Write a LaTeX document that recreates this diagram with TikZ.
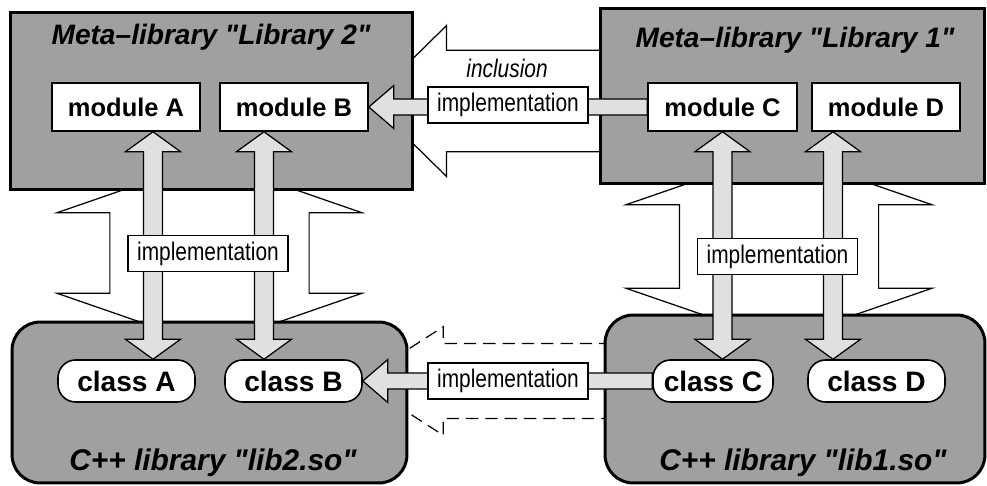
\documentclass[tikz,border=0pt]{standalone}
\usepackage{fontspec}
\setmainfont{Liberation Sans}
\newfontfamily\narrowfont[FakeStretch=0.82]{Liberation Sans}
\usetikzlibrary{calc,backgrounds}

\definecolor{boxgray}{RGB}{160,160,160}
\definecolor{flowgray}{RGB}{224,224,224}

\tikzset{
  fat shaft/.store in=\fatshaft, fat head/.store in=\fathead, fat tip/.store in=\fattip,
  fat shaft=5.4pt, fat head=15.6pt, fat tip=11.3pt
}

% fat arrow with one head, from #2 to #3
\newcommand{\fatlink}[3][]{%
  \draw[#1] let \p1=($(#3)-(#2)$), \n1={atan2(\y1,\x1)}, \n2={veclen(\x1,\y1)} in
    ([shift={(#2)},rotate=\n1]0pt,\fatshaft)
    -- ([shift={(#2)},rotate=\n1]\n2-\fattip,\fatshaft)
    -- ([shift={(#2)},rotate=\n1]\n2-\fattip,\fathead)
    -- ([shift={(#2)},rotate=\n1]\n2,0pt)
    -- ([shift={(#2)},rotate=\n1]\n2-\fattip,-\fathead)
    -- ([shift={(#2)},rotate=\n1]\n2-\fattip,-\fatshaft)
    -- ([shift={(#2)},rotate=\n1]0pt,-\fatshaft) -- cycle;}

% fat arrow with two heads
\newcommand{\fatdlink}[3][]{%
  \draw[#1] let \p1=($(#3)-(#2)$), \n1={atan2(\y1,\x1)}, \n2={veclen(\x1,\y1)} in
    ([shift={(#2)},rotate=\n1]0pt,0pt)
    -- ([shift={(#2)},rotate=\n1]\fattip,\fathead)
    -- ([shift={(#2)},rotate=\n1]\fattip,\fatshaft)
    -- ([shift={(#2)},rotate=\n1]\n2-\fattip,\fatshaft)
    -- ([shift={(#2)},rotate=\n1]\n2-\fattip,\fathead)
    -- ([shift={(#2)},rotate=\n1]\n2,0pt)
    -- ([shift={(#2)},rotate=\n1]\n2-\fattip,-\fathead)
    -- ([shift={(#2)},rotate=\n1]\n2-\fattip,-\fatshaft)
    -- ([shift={(#2)},rotate=\n1]\fattip,-\fatshaft)
    -- ([shift={(#2)},rotate=\n1]\fattip,-\fathead) -- cycle;}

\begin{document}
\begin{tikzpicture}[x=0.02cm, y=-0.02cm,
    metabox/.style={draw, line width=1.7pt, fill=boxgray, inner sep=0pt, outer sep=0pt},
    sobox/.style={metabox, rounded corners=16pt},
    module/.style={draw, line width=0.9pt, fill=white, inner sep=0pt, minimum height=0.96cm,
      font=\bfseries\fontsize{14.5}{16}\selectfont},
    classbox/.style={draw, line width=0.9pt, fill=white, inner sep=0pt, minimum height=0.84cm,
      rounded corners=10pt, font=\bfseries\fontsize{16}{18}\selectfont},
    title/.style={font=\bfseries\itshape\fontsize{16}{18}\selectfont},
    implabel/.style={draw, fill=white, line width=0.7pt, inner sep=0pt,
      minimum width=3.2cm, minimum height=0.72cm, font=\narrowfont\fontsize{14.5}{16}\selectfont},
    flow/.style={draw, fill=flowgray, line width=0.7pt},
    inclusion/.style={draw, fill=white, line width=0.7pt}]
  \useasboundingbox (0,0) rectangle (987,486);

  % Meta-libraries
  \node[metabox, minimum width=8.06cm, minimum height=3.56cm] (lib2meta) at (211.5,101) {};
  \node[metabox, minimum width=7.7cm, minimum height=3.52cm] (lib1meta) at (792.5,96) {};
  \node[title] (lib2title) at (211,37) {Meta--library \textquotedbl Library 2\textquotedbl};
  \node[title] (lib1title) at (795,40) {Meta--library \textquotedbl Library 1\textquotedbl};

  % C++ libraries
  \node[sobox, minimum width=7.9cm, minimum height=3.22cm] (lib2so) at (209.5,402.5) {};
  \node[sobox, minimum width=7.6cm, minimum height=3.36cm] (lib1so) at (795,399) {};
  \node[title, font=\bfseries\itshape\fontsize{17}{19}\selectfont] (lib2sotitle) at (213,463) {C++ library \textquotedbl lib2.so\textquotedbl};
  \node[title, font=\bfseries\itshape\fontsize{17}{19}\selectfont] (lib1sotitle) at (803,463) {C++ library \textquotedbl lib1.so\textquotedbl};

  % modules
  \node[module, minimum width=2.96cm] (modA) at (126,107) {module A};
  \node[module, minimum width=2.96cm] (modB) at (294,107) {module B};
  \node[module, minimum width=2.98cm] (modC) at (722.5,107) {module C};
  \node[module, minimum width=2.96cm] (modD) at (886,107) {module D};

  % classes
  \node[classbox, minimum width=2.74cm] (clsA) at (126.5,381) {class A};
  \node[classbox, minimum width=2.74cm] (clsB) at (293.5,381) {class B};
  \node[classbox, minimum width=2.4cm] (clsC) at (713,381) {class C};
  \node[classbox, minimum width=2.74cm] (clsD) at (876.5,381) {class D};

  % inclusion arrows behind the boxes
  \begin{scope}[on background layer]
    \coordinate (incTail) at (lib1meta.center |- lib2meta.east);
    \coordinate (incTip) at ($(lib2meta.east)+(-43,0)$);
    \fatlink[inclusion, fat shaft=28.9pt, fat head=43pt, fat tip=43.6pt]{incTail}{incTip};
    \coordinate (incL1) at ($(lib2so.north)+(0,24)$);
    \coordinate (incL2) at ($(lib2so.north |- lib2meta.south)+(0,-30)$);
    \fatdlink[inclusion, fat shaft=56.7pt, fat head=86.7pt, fat tip=30pt]{incL1}{incL2};
    \coordinate (incR1) at ($(lib1so.north)+(-16,26)$);
    \coordinate (incR2) at ($(lib1so.north |- lib1meta.south)+(-16,-32)$);
    \fatdlink[inclusion, fat shaft=56.7pt, fat head=87pt, fat tip=30pt]{incR1}{incR2};
    \coordinate (incTipSo) at ($(lib2so.east |- clsC.west)+(-48,0)$);
    \fatlink[inclusion, dash pattern=on 7pt off 4pt, fat shaft=21.3pt, fat head=30.9pt, fat tip=48pt]{clsC.west}{incTipSo};
  \end{scope}
  \node[font=\narrowfont\itshape\fontsize{14.5}{16}\selectfont] (incl) at (507,68) {inclusion};

  % implementation arrows
  \coordinate (aTop) at ($(modA.south)+(27,0)$);
  \coordinate (aBot) at (aTop |- clsA.north);
  \coordinate (bTop) at ($(modB.south)+(-30,0)$);
  \coordinate (bBot) at (bTop |- clsB.north);
  \coordinate (cBot) at (modC.south |- clsC.north);
  \coordinate (dTop) at ($(modD.south)+(-53,0)$);
  \coordinate (dBot) at (dTop |- clsD.north);
  \fatdlink[flow]{aBot}{aTop};
  \fatdlink[flow]{bBot}{bTop};
  \fatdlink[flow]{cBot}{modC.south};
  \fatdlink[flow]{dBot}{dTop};
  \fatlink[flow, fat shaft=4.5pt, fat head=12.2pt, fat tip=14.2pt]{modC.west}{modB.east};
  \fatlink[flow, fat shaft=4.5pt, fat head=12.2pt, fat tip=14.2pt]{clsC.west}{clsB.east};

  \node[implabel] (impTop) at (508,105) {implementation};
  \node[implabel] (impBot) at (508,381) {implementation};
  \node[implabel] (impLeft) at (208,253.5) {implementation};
  \node[implabel] (impRight) at (777.5,256.5) {implementation};
\end{tikzpicture}
\end{document}
